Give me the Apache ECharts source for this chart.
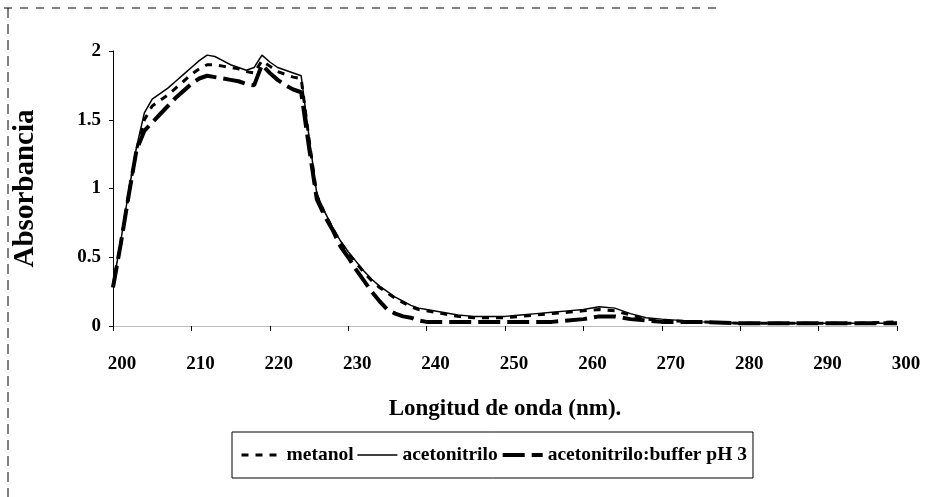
<!DOCTYPE html>
<html>
<head>
<meta charset="utf-8">
<script src="https://cdn.jsdelivr.net/npm/echarts@6/dist/echarts.min.js"></script>
<style>
html,body{margin:0;padding:0;background:#fff;}
#chart{width:930px;height:497px;}
</style>
</head>
<body>
<div id="chart"></div>
<script>
const wavelength = [200,201,202,203,204,205,206,207,208,209,210,211,212,213,214,215,216,217,218,219,220,221,222,223,224,225,226,227,228,229,230,231,232,233,234,235,236,237,238,239,240,242,244,246,248,250,252,254,256,258,260,262,264,266,268,270,275,280,285,290,295,300];
const metanol = [0.29,0.60,0.96,1.28,1.50,1.60,1.64,1.68,1.73,1.78,1.83,1.87,1.90,1.90,1.89,1.88,1.87,1.85,1.84,1.93,1.89,1.85,1.83,1.81,1.80,1.36,0.95,0.82,0.71,0.61,0.53,0.46,0.39,0.33,0.28,0.24,0.20,0.17,0.14,0.12,0.11,0.09,0.07,0.06,0.06,0.06,0.07,0.08,0.09,0.10,0.11,0.12,0.11,0.08,0.05,0.04,0.03,0.02,0.02,0.02,0.02,0.03];
const acetonitrilo = [0.30,0.62,0.98,1.30,1.55,1.65,1.69,1.73,1.78,1.83,1.88,1.93,1.97,1.96,1.93,1.90,1.88,1.86,1.88,1.97,1.92,1.88,1.86,1.84,1.82,1.38,0.96,0.83,0.72,0.62,0.54,0.47,0.40,0.34,0.29,0.25,0.21,0.18,0.15,0.13,0.12,0.10,0.08,0.07,0.07,0.07,0.08,0.09,0.10,0.11,0.12,0.14,0.13,0.09,0.06,0.05,0.03,0.02,0.02,0.02,0.02,0.02];
const buffer = [0.28,0.60,0.95,1.28,1.42,1.48,1.54,1.60,1.66,1.71,1.76,1.80,1.82,1.81,1.80,1.79,1.78,1.76,1.75,1.90,1.84,1.79,1.75,1.72,1.70,1.30,0.92,0.80,0.70,0.58,0.50,0.41,0.33,0.25,0.18,0.12,0.09,0.07,0.06,0.04,0.03,0.03,0.03,0.03,0.03,0.03,0.03,0.03,0.03,0.04,0.05,0.07,0.07,0.05,0.04,0.03,0.03,0.02,0.02,0.02,0.02,0.02];
const seriesNames = ['metanol','acetonitrilo','acetonitrilo:buffer pH 3'];
const xTitle = 'Longitud de onda (nm).';
const yTitle = 'Absorbancia';

const pairs = arr => wavelength.map((w,i)=>[w,arr[i]]);
const FONT = '"Liberation Serif","Times New Roman",serif';

const styles = [
  {color:'#000', width:3, type:[7,7]},
  {color:'#000', width:1.5, type:'solid'},
  {color:'#000', width:4, type:[22,7]}
];

const chart = echarts.init(document.getElementById('chart'), null, {renderer:'canvas'});
chart.setOption({
  animation:false,
  backgroundColor:'#fff',
  grid:{left:113, right:33, top:51, bottom:171, containLabel:false},
  xAxis:{
    type:'value', min:200, max:300, interval:10,
    name:xTitle, nameLocation:'middle', nameGap:72,
    nameTextStyle:{fontFamily:FONT, fontWeight:'bold', fontSize:23, color:'#000'},
    axisLine:{show:true, lineStyle:{color:'#bbb', width:1}},
    axisTick:{show:true, length:5, lineStyle:{color:'#000'}},
    axisLabel:{fontFamily:FONT, fontWeight:'bold', fontSize:19, color:'#000', margin:29, padding:[0,0,0,18]},
    splitLine:{show:false}
  },
  yAxis:{
    type:'value', min:0, max:2, interval:0.5,
    name:yTitle, nameLocation:'middle', nameGap:73, nameRotate:90,
    nameTextStyle:{fontFamily:FONT, fontWeight:'bold', fontSize:29, color:'#000'},
    axisLine:{show:true, lineStyle:{color:'#000', width:1}},
    axisTick:{show:true, length:4, lineStyle:{color:'#000'}},
    axisLabel:{fontFamily:FONT, fontWeight:'bold', fontSize:19, color:'#000', margin:12},
    splitLine:{show:false}
  },
  legend:{
    left:232, top:432,
    data:seriesNames.map((n,i)=>({name:n, lineStyle:{width:styles[i].width, type:styles[i].type, color:'#000'}})),
    orient:'horizontal',
    itemWidth:40, itemHeight:14, itemGap:3,
    padding:[13,6,13,8],
    borderColor:'#000', borderWidth:1,
    itemStyle:{opacity:0},
    textStyle:{fontFamily:FONT, fontWeight:'bold', fontSize:19.5, color:'#000'}
  },
  graphic:[
    {type:'line', shape:{x1:4,y1:8,x2:720,y2:8}, style:{stroke:'#000', lineWidth:1, lineDash:[8,8]}},
    {type:'line', shape:{x1:8,y1:8,x2:8,y2:497}, style:{stroke:'#000', lineWidth:1, lineDash:[10,6]}}
  ],
  series:[
    {name:seriesNames[0], type:'line', data:pairs(metanol), showSymbol:false, symbol:'none',
     lineStyle:styles[0], itemStyle:{color:'#000'}},
    {name:seriesNames[1], type:'line', data:pairs(acetonitrilo), showSymbol:false, symbol:'none',
     lineStyle:styles[1], itemStyle:{color:'#000'}},
    {name:seriesNames[2], type:'line', data:pairs(buffer), showSymbol:false, symbol:'none',
     lineStyle:styles[2], itemStyle:{color:'#000'}}
  ]
});
</script>
</body>
</html>
